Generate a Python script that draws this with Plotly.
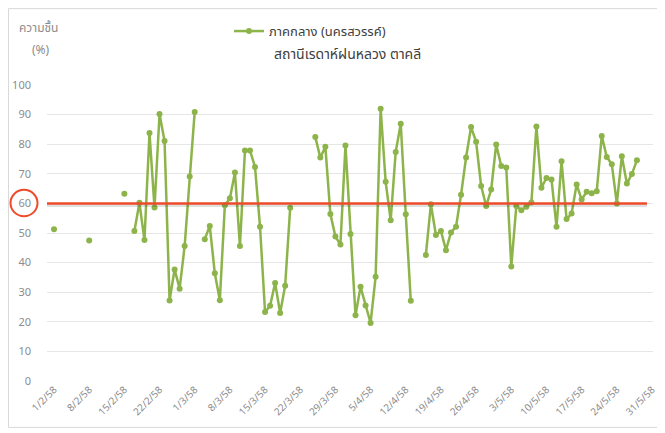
import pandas as pd
import plotly.graph_objects as go

# ---- data (humidity %, daily from 1/2/58 to 28/5/58; None = no reading) ----
START_DATE = "2015-02-01"
END_DATE = "2015-05-28"
HUMIDITY = [
    51.3, None, None, None, None, None, None,          # 1/2 - 7/2
    47.5, None, None, None, None, None, None,          # 8/2 - 14/2
    63.3, None, 50.7, 60.2, 47.6, 83.8, 58.6,          # 15/2 - 21/2
    90.2, 81.1, 27.2, 37.7, 31.2, 45.6, 69.1,          # 22/2 - 28/2
    90.9, None, 47.9, 52.4, 36.4, 27.3, 59.4,          # 1/3 - 7/3
    61.7, 70.4, 45.6, 77.9, 77.9, 72.3, 52.1,          # 8/3 - 14/3
    23.3, 25.4, 33.1, 23.0, 32.2, 58.5, None,          # 15/3 - 21/3
    None, None, None, 82.4, 75.5, 79.1, 56.4,          # 22/3 - 28/3
    48.8, 46.1, 79.6, 49.7, 22.2, 31.8, 25.5,          # 29/3 - 4/4
    19.6, 35.2, 92.0, 67.3, 54.3, 77.4, 86.9,          # 5/4 - 11/4
    56.3, 27.1, None, None, 42.6, 59.7, 49.3,          # 12/4 - 18/4
    50.7, 44.2, 50.2, 52.1, 62.9, 75.5, 85.8,          # 19/4 - 25/4
    80.8, 65.9, 59.1, 64.7, 79.9, 72.6, 72.1,          # 26/4 - 2/5
    38.7, 59.1, 57.7, 58.9, 60.3, 86.0, 65.3,          # 3/5 - 9/5
    68.6, 68.1, 52.1, 74.2, 54.7, 56.6, 66.4,          # 10/5 - 16/5
    61.3, 63.9, 63.4, 64.1, 82.8, 75.7, 73.2,          # 17/5 - 23/5
    60.0, 75.9, 66.7, 69.9, 74.6,                      # 24/5 - 28/5
]
THRESHOLD = 60
TICK_DATES = ["2015-02-01", "2015-02-08", "2015-02-15", "2015-02-22", "2015-03-01",
              "2015-03-08", "2015-03-15", "2015-03-22", "2015-03-29", "2015-04-05",
              "2015-04-12", "2015-04-19", "2015-04-26", "2015-05-03", "2015-05-10",
              "2015-05-17", "2015-05-24", "2015-05-31"]
TICK_LABELS = ["1/2/58", "8/2/58", "15/2/58", "22/2/58", "1/3/58", "8/3/58",
               "15/3/58", "22/3/58", "29/3/58", "5/4/58", "12/4/58", "19/4/58",
               "26/4/58", "3/5/58", "10/5/58", "17/5/58", "24/5/58", "31/5/58"]
SERIES_NAME = "ภาคกลาง (นครสวรรค์)"
SUBTITLE = "สถานีเรดาห์ฝนหลวง ตาคลี"
Y_TITLE_1 = "ความชื้น"
Y_TITLE_2 = "(%)"

dates = pd.date_range(START_DATE, END_DATE, freq="D")

FONT = "Tahoma, 'Noto Sans Thai', 'Noto Sans', 'DejaVu Sans', sans-serif"
GREEN = "#8DB44A"
RED = "#EE4B2B"
GRAY = "#8C8C8C"

# figure is placed 8px in from the window's top-left corner (page body margin)
W, H = 657, 425
L, R, T, B = 39, 12, 77, 51.5
pw, ph = W - L - R, H - T - B

day0 = pd.Timestamp(START_DATE)
x_lo = day0 + pd.Timedelta(days=-1.393)
x_hi = day0 + pd.Timedelta(days=119.2)


def px_x(px):
    return (px - L) / pw


def px_y(py):
    return (H - B - py) / ph


fig = go.Figure()
fig.add_trace(go.Scatter(
    x=dates, y=HUMIDITY, name=SERIES_NAME, mode="lines+markers",
    connectgaps=False,
    line=dict(color=GREEN, width=2.5),
    marker=dict(color=GREEN, size=6, symbol="circle"),
    showlegend=True,
))

fig.update_layout(
    width=W, height=H,
    margin=dict(l=L, r=R, t=T, b=B, pad=0, autoexpand=False),
    paper_bgcolor="white", plot_bgcolor="white",
    font=dict(family=FONT, color="#595959", size=12),
    showlegend=True,
    legend=dict(orientation="h", x=px_x(221), y=px_y(8), xanchor="left", yanchor="top",
                font=dict(size=13, color="#404040"), bgcolor="rgba(0,0,0,0)",
                itemwidth=30),
    xaxis=dict(
        type="date", automargin=False,
        range=[x_lo, x_hi],
        tickmode="array", tickvals=TICK_DATES, ticktext=TICK_LABELS,
        tickangle=-45, tickfont=dict(size=10, color=GRAY),
        showgrid=False, zeroline=False, showline=False, ticks="",
    ),
    yaxis=dict(
        range=[0, 100], dtick=10, tick0=0, automargin=False,
        tickfont=dict(size=11, color=GRAY),
        showgrid=True, gridcolor="#E6E6E6", gridwidth=1,
        zeroline=False, showline=False, ticks="",
        ticklabelstandoff=15,
    ),
    shapes=[
        # chart frame
        dict(type="rect", xref="paper", yref="paper",
             x0=px_x(0.5), x1=px_x(653), y0=px_y(420), y1=px_y(0.5),
             line=dict(color="#D9D9D9", width=1), fillcolor="rgba(0,0,0,0)", layer="below"),
        # threshold shadow
        dict(type="line", xref="paper", yref="y", x0=0, x1=0.990,
             y0=THRESHOLD - 0.7, y1=THRESHOLD - 0.7,
             line=dict(color="rgba(0,0,0,0.12)", width=3), layer="above"),
        # threshold line
        dict(type="line", xref="paper", yref="y", x0=0, x1=0.990,
             y0=THRESHOLD, y1=THRESHOLD,
             line=dict(color=RED, width=2.5), layer="above"),
        # circle around the 60 label
        dict(type="circle", xref="paper", yref="paper",
             x0=px_x(2.5), x1=px_x(29.5), y0=px_y(208.5), y1=px_y(182),
             line=dict(color=RED, width=2), fillcolor="rgba(0,0,0,0)"),
    ],
    annotations=[
        dict(text=SUBTITLE, xref="paper", yref="paper", x=px_x(339), y=px_y(46),
             showarrow=False, font=dict(size=14, color="#404040"),
             xanchor="center", yanchor="middle"),
        dict(text=Y_TITLE_1, xref="paper", yref="paper", x=px_x(30), y=px_y(20),
             showarrow=False, font=dict(size=12, color=GRAY),
             xanchor="center", yanchor="middle"),
        dict(text=Y_TITLE_2, xref="paper", yref="paper", x=px_x(33), y=px_y(42),
             showarrow=False, font=dict(size=12, color=GRAY),
             xanchor="center", yanchor="middle"),
    ],
)

fig.write_html("out.html")
